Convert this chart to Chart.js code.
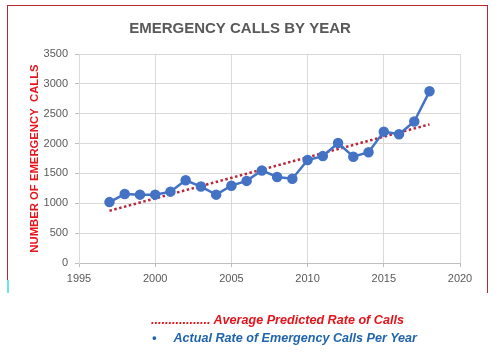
<!DOCTYPE html>
<html>
<head>
<meta charset="utf-8">
<script src="https://cdn.jsdelivr.net/npm/chart.js@4"></script>
<style>
  html, body { margin: 0; padding: 0; background: #fff; }
  #wrap { position: relative; width: 499px; height: 353px; overflow: hidden; }
  #chart { position: absolute; left: 0; top: 0; }
  .frame { position: absolute; left: 7px; top: 5px; width: 481px; height: 288px;
           border: 1.5px solid #b8282e; border-bottom: none; box-sizing: border-box; }
  .cyan { position: absolute; left: 7px; top: 280px; width: 2px; height: 13px; background: #6fe3ea; }
  .legend { position: absolute; font-family: "Liberation Sans", Arial, sans-serif;
            font-weight: bold; font-style: italic; font-size: 12.6px; white-space: pre; }
  .l1 { left: 151px; top: 313px; color: #e5141b; }
  .l2 { left: 152px; top: 331px; color: #1f64ad; }
</style>
</head>
<body>
<div id="wrap">
  <div class="frame"></div>
  <div class="cyan"></div>
  <canvas id="chart" width="499" height="353"></canvas>
  <div class="legend l1">................. Average Predicted Rate of Calls</div>
  <div class="legend l2">•     Actual Rate of Emergency Calls Per Year</div>
</div>
<script>
const years = [1997, 1998, 1999, 2000, 2001, 2002, 2003, 2004, 2005, 2006, 2007,
               2008, 2009, 2010, 2011, 2012, 2013, 2014, 2015, 2016, 2017, 2018];
const calls = [1020, 1155, 1145, 1145, 1195, 1385, 1280, 1145, 1295, 1375, 1550,
               1440, 1410, 1725, 1790, 2010, 1780, 1855, 2200, 2155, 2370, 2875];
const trendYears = [1997, 2018];
const trendValues = [875, 2322];
const xTicks = [1995, 2000, 2005, 2010, 2015, 2020];
const yMax = 3500;

const tickFont = { family: "Liberation Sans, Arial, sans-serif", size: 11 };

new Chart(document.getElementById("chart"), {
  type: "line",
  data: {
    datasets: [
      {
        label: "Actual Rate of Emergency Calls Per Year",
        data: years.map((y, i) => ({ x: y, y: calls[i] })),
        borderColor: "#4472c4",
        backgroundColor: "#4472c4",
        borderWidth: 2.5,
        pointRadius: 4,
        pointHoverRadius: 4,
        tension: 0,
        order: 1
      },
      {
        label: "Average Predicted Rate of Calls",
        data: trendYears.map((y, i) => ({ x: y, y: trendValues[i] })),
        borderColor: "#b8283a",
        borderWidth: 2.5,
        borderDash: [2.5, 2.5],
        pointRadius: 0,
        tension: 0,
        order: 2
      }
    ]
  },
  options: {
    responsive: false,
    animation: false,
    layout: { padding: { left: 20, right: 39, top: 0, bottom: 68 } },
    plugins: {
      legend: { display: false },
      tooltip: { enabled: false },
      title: {
        display: true,
        text: "EMERGENCY CALLS BY YEAR",
        color: "#595959",
        font: { family: "Liberation Sans, Arial, sans-serif", size: 15, weight: "bold" },
        padding: { top: 20, bottom: 16 }
      }
    },
    scales: {
      x: {
        type: "linear",
        min: 1995,
        max: 2020,
        afterBuildTicks: (scale) => { scale.ticks = xTicks.map((v) => ({ value: v })); },
        afterFit: (scale) => { scale.height = 22; },
        ticks: { color: "#595959", font: tickFont, padding: 5, callback: (v) => String(v) },
        grid: { color: "#d9d9d9", tickLength: 4, tickColor: "#bfbfbf" },
        border: { color: "#bfbfbf" }
      },
      y: {
        min: 0,
        max: yMax,
        ticks: { stepSize: 500, color: "#595959", font: tickFont, padding: 7, callback: (v) => String(v) },
        afterFit: (scale) => { scale.width = 59; },
        grid: { color: "#d9d9d9", tickLength: 4, tickColor: "#bfbfbf" },
        border: { color: "#d9d9d9" },
        title: {
          display: true,
          text: "NUMBER OF EMERGENCY  CALLS",
          color: "#e8141c",
          font: { family: "Liberation Sans, Arial, sans-serif", size: 11.3, weight: "bold" },
          padding: { top: 8, bottom: 0 }
        }
      }
    }
  }
});
</script>
</body>
</html>
